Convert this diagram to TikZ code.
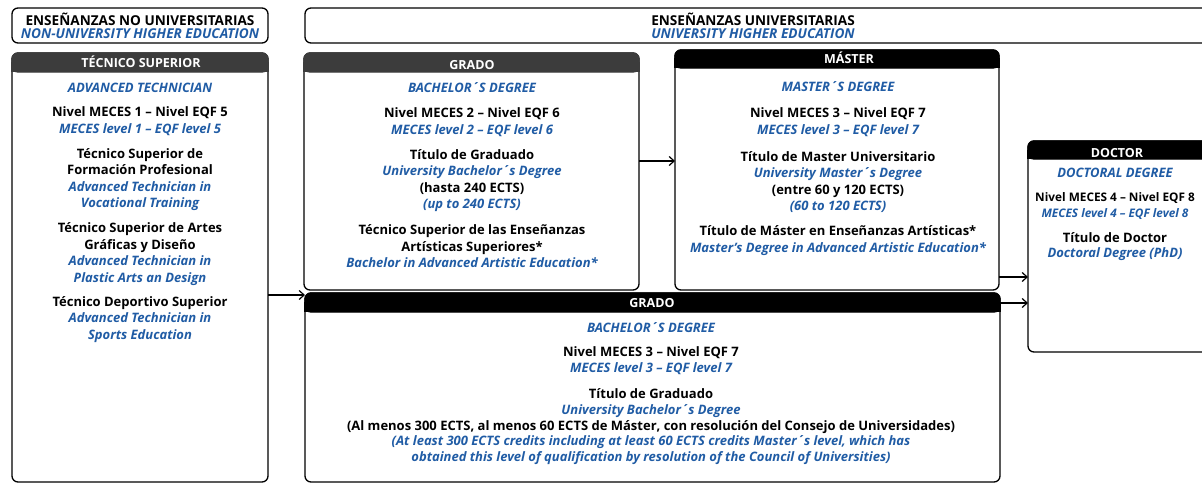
\documentclass[tikz,border=0pt]{standalone}
\usepackage{fontspec}
\setmainfont{Open Sans}
\usetikzlibrary{arrows.meta}
\definecolor{edblue}{RGB}{32,92,165}
\definecolor{hdgray}{RGB}{60,60,60}
\newcommand{\eng}[1]{{\color{edblue}\itshape #1}}
\newcommand{\fl}{\rule{0pt}{10pt}}
\begin{document}
\begin{tikzpicture}[x=1pt,y=-1pt,line join=round,
  box/.style={draw, line width=1.3pt, rounded corners=6pt, inner sep=0pt, outer sep=0pt, anchor=north west},
  hdr/.style={draw=#1, fill=#1, line width=1.3pt, rounded corners=6pt, inner sep=0pt, outer sep=0pt, anchor=north west},
  hdrtext/.style={text=white, inner sep=0pt, anchor=base, font=\fontsize{12.5}{14}\selectfont\bfseries},
  txt/.style={align=center, inner sep=0pt, anchor=north, font=\fontsize{13}{16.5}\selectfont\bfseries},
  arr/.style={line width=1.2pt, -{Straight Barb[length=5pt,width=9pt]}}]
\useasboundingbox (0,0) rectangle (1202,485);
\fill[white] (0,0) rectangle (1202,485);
\clip (0,0) rectangle (1202,485);

% top title boxes
\node[box, minimum width=256pt, minimum height=35pt] (boxA) at (12,8) {};
\node[box, minimum width=910pt, minimum height=35pt] (boxB) at (305,8) {};
\node[txt, font=\fontsize{13.6}{13.5}\selectfont\bfseries] (boxAt) at (140,10.5)
  {\rule{0pt}{14.5pt}ENSEÑANZAS NO UNIVERSITARIAS\\\eng{NON-UNIVERSITY HIGHER EDUCATION}};
\node[txt, font=\fontsize{13.6}{13.5}\selectfont\bfseries] (boxBt) at (753,10.5)
  {\rule{0pt}{14.5pt}ENSEÑANZAS UNIVERSITARIAS\\\eng{UNIVERSITY HIGHER EDUCATION}};

% main boxes
\node[box, minimum width=256pt, minimum height=429pt] (tec) at (12,53) {};
\node[box, minimum width=335pt, minimum height=237pt] (grd1) at (304,53) {};
\node[box, minimum width=324pt, minimum height=240pt] (mas) at (675,50) {};
\node[box, minimum width=695pt, minimum height=189pt] (grd2) at (305,293) {};
\node[box, minimum width=190pt, minimum height=211pt] (doc) at (1028,141) {};

% headers
\fill[hdgray] (11.35,62) rectangle (268.65,72);
\node[hdr=hdgray, minimum width=256pt, minimum height=19pt] (tech) at (12,53) {};
\fill[hdgray] (303.35,62) rectangle (639.65,72);
\node[hdr=hdgray, minimum width=335pt, minimum height=19pt] (grd1h) at (304,53) {};
\fill[black] (674.35,58) rectangle (999.65,68);
\node[hdr=black, minimum width=324pt, minimum height=18pt] (mash) at (675,50) {};
\fill[black] (304.35,302) rectangle (1000.65,312);
\node[hdr=black, minimum width=695pt, minimum height=19pt] (grd2h) at (305,293) {};
\fill[black] (1027.35,150) rectangle (1220,159);
\node[hdr=black, minimum width=190pt, minimum height=18pt] (doch) at (1028,141) {};

\node[hdrtext] (techt) at (141,67) {TÉCNICO SUPERIOR};
\node[hdrtext] (grd1ht) at (472,69.5) {GRADO};
\node[hdrtext] (masht) at (849,63.5) {MÁSTER};
\node[hdrtext] (grd2ht) at (652,307.5) {GRADO};
\node[hdrtext] (docht) at (1117,157.5) {DOCTOR};

% contents
\node[txt] (tect) at (140,82.3) {%
\fl\eng{ADVANCED TECHNICIAN}\\[7.5pt]
Nivel MECES 1 – Nivel EQF 5\\
\eng{MECES level 1 – EQF level 5}\\[8.5pt]
Técnico Superior de\\
Formación Profesional\\
\eng{Advanced Technician in}\\
\eng{Vocational Training}\\[8.5pt]
Técnico Superior de Artes\\
Gráficas y Diseño\\
\eng{Advanced Technician in}\\
\eng{Plastic Arts an Design}\\[7.5pt]
Técnico Deportivo Superior\\
\eng{Advanced Technician in}\\
\eng{Sports Education}};

\node[txt] (grd1t) at (472,82.3) {%
\fl\eng{BACHELOR´S DEGREE}\\[8.5pt]
Nivel MECES 2 – Nivel EQF 6\\
\eng{MECES level 2 – EQF level 6}\\[8.5pt]
Título de Graduado\\
\eng{University Bachelor´s Degree}\\
(hasta 240 ECTS)\\
\eng{(up to 240 ECTS)}\\[9.5pt]
Técnico Superior de las Enseñanzas\\
Artísticas Superiores*\\
\eng{Bachelor in Advanced Artistic Education*}};

\node[txt] (mast) at (838,81.3) {%
\fl\eng{MASTER´S DEGREE}\\[9.5pt]
Nivel MECES 3 – Nivel EQF 7\\
\eng{MECES level 3 – EQF level 7}\\[10.5pt]
Título de Master Universitario\\
\eng{University Master´s Degree}\\
(entre 60 y 120 ECTS)\\
\eng{(60 to 120 ECTS)}\\[8.5pt]
Título de Máster en Enseñanzas Artísticas*\\
\eng{Master's Degree in Advanced Artistic Education*}};

\node[txt, font=\fontsize{13}{15.8}\selectfont\bfseries] (grd2t) at (651,322.3) {%
\fl\eng{BACHELOR´S DEGREE}\\[8.5pt]
Nivel MECES 3 – Nivel EQF 7\\
\eng{MECES level 3 – EQF level 7}\\[10pt]
Título de Graduado\\
\eng{University Bachelor´s Degree}\\
(Al menos 300 ECTS, al menos 60 ECTS de Máster, con resolución del Consejo de Universidades)\\
\eng{(At least 300 ECTS credits including at least 60 ECTS credits Master´s level, which has}\\
\eng{obtained this level of qualification by resolution of the Council of Universities)}};

\node[txt, font=\fontsize{13}{15.5}\selectfont\bfseries] (doct) at (1115,167.3) {%
\fl\eng{DOCTORAL DEGREE}\\[8.5pt]
{\fontsize{11.8}{15.5}\selectfont Nivel MECES 4 – Nivel EQF 8}\\
{\fontsize{11.8}{15.5}\selectfont\eng{MECES level 4 – EQF level 8}}\\[9.5pt]
Título de Doctor\\
\eng{Doctoral Degree (PhD)}};

% connectors
\draw[arr] (tec.east |- 0,295) -- (grd2.west |- 0,295);
\draw[arr] (grd1.east |- 0,161) -- (mas.west |- 0,161);
\draw[arr] (mas.east |- 0,277) -- (doc.west |- 0,277);
\draw[arr] (grd2.east |- 0,303) -- (doc.west |- 0,303);
\end{tikzpicture}
\end{document}
